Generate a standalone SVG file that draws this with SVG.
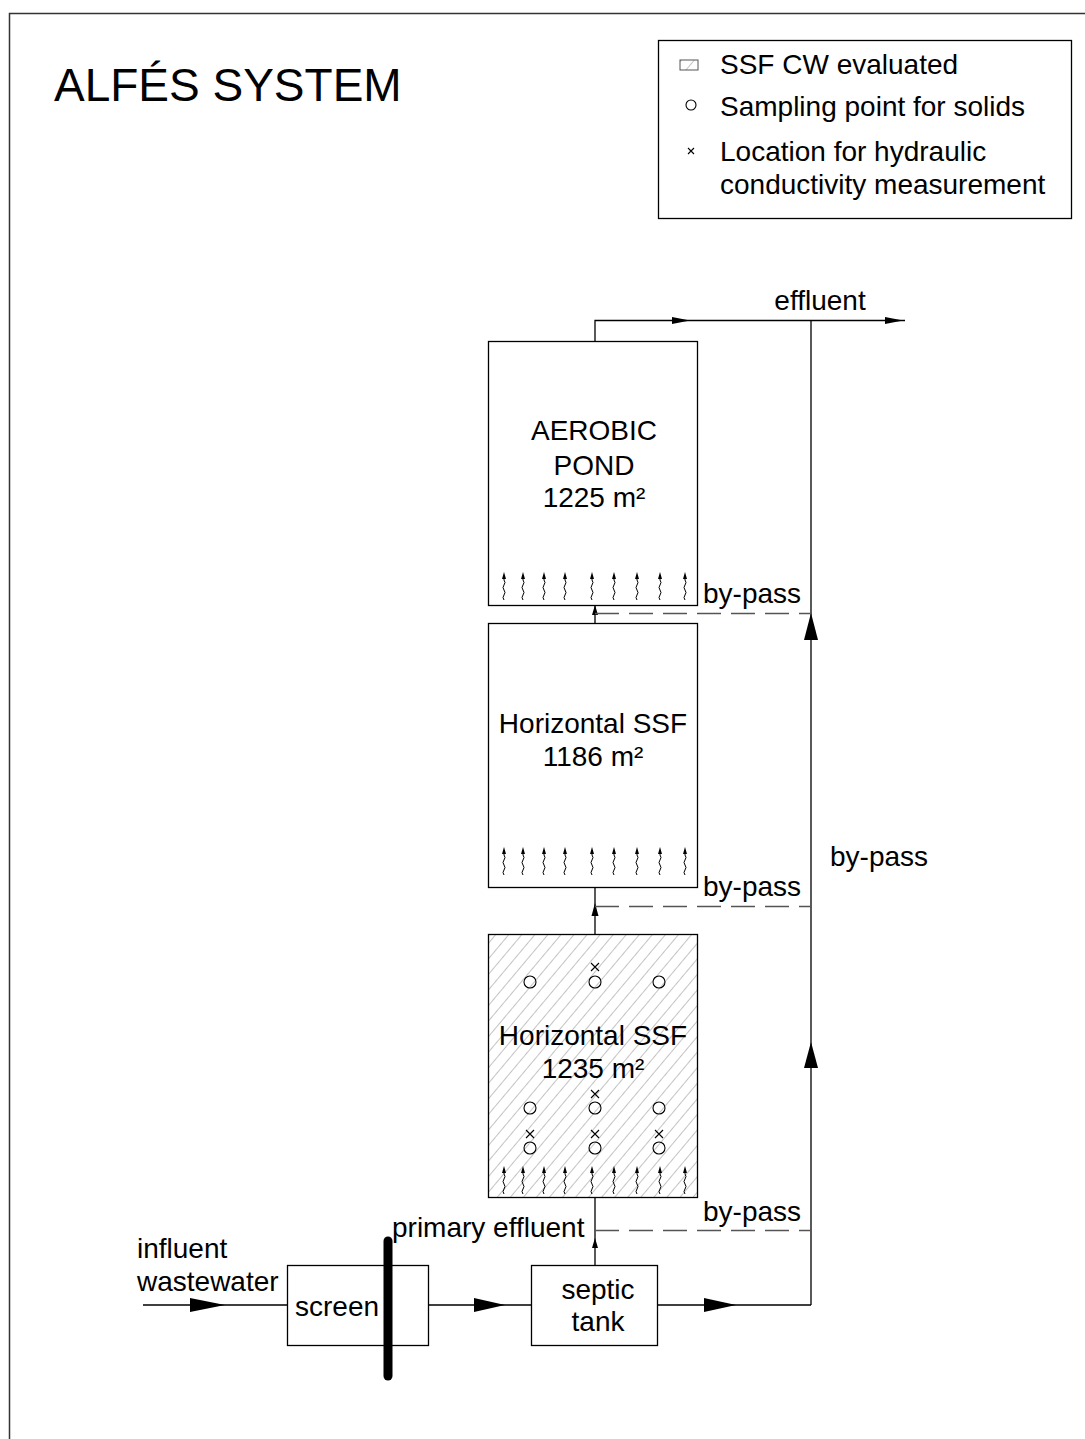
<svg xmlns="http://www.w3.org/2000/svg" width="1085" height="1439" viewBox="0 0 1085 1439">
<style>
text{font-family:"Liberation Sans",Arial,sans-serif;fill:#000}
.lbl{font-size:28px}
.mid{text-anchor:middle}
.box{fill:#fff;stroke:#000;stroke-width:1.3}
.ln{fill:none;stroke:#000;stroke-width:1.3}
.dash{fill:none;stroke:#555;stroke-width:1.3;stroke-dasharray:24 10}
.ah{fill:#000}
.sym{fill:none;stroke:#000;stroke-width:1.1}
</style>
<defs>
<pattern id="hatch" patternUnits="userSpaceOnUse" width="10" height="10" patternTransform="rotate(40)">
<rect width="10" height="10" fill="#fff"/>
<line x1="0" y1="0" x2="0" y2="10" stroke="#888" stroke-width="1"/>
</pattern>
<g id="wavy">
<path d="M0,28 q-2,-2.5 0,-5 q2,-2.5 0,-5 q-2,-2.5 0,-5 q2,-2.5 0,-5 L0,4" fill="none" stroke="#000" stroke-width="1"/>
<polygon points="0,0 -2,7 2,7" fill="#000"/>
</g>
<g id="wrow">
<use href="#wavy" x="504"/><use href="#wavy" x="523"/><use href="#wavy" x="544"/><use href="#wavy" x="565"/><use href="#wavy" x="592"/><use href="#wavy" x="614"/><use href="#wavy" x="637"/><use href="#wavy" x="660"/><use href="#wavy" x="685"/>
</g>
</defs>
<rect width="1085" height="1439" fill="#fff"/>
<path d="M9.5,1439 V13.5 H1085" fill="none" stroke="#333" stroke-width="1.5"/>
<text x="54" y="101" style="font-size:46px">ALFÉS SYSTEM</text>

<g id="legend">
<rect x="658.5" y="40.5" width="413" height="178" class="box"/>
<rect x="680" y="60" width="18" height="10" fill="url(#hatch)" stroke="#555" stroke-width="1"/>
<text x="720" y="74" class="lbl">SSF CW evaluated</text>
<circle cx="691" cy="105" r="5" class="sym"/>
<text x="720" y="116" class="lbl">Sampling point for solids</text>
<path d="M688,148 l6,6 m0,-6 l-6,6" class="sym"/>
<text x="720" y="161" class="lbl">Location for hydraulic</text>
<text x="720" y="194" class="lbl">conductivity measurement</text>
</g>

<g id="connectors">
<path d="M595,341 V320.5 H905" class="ln"/>
<polygon points="690,320.5 672,317 672,324" class="ah"/>
<polygon points="903,320.5 885,317 885,324" class="ah"/>
<path d="M811,320 V1305" class="ln"/>
<polygon points="811,613 804,640 818,640" class="ah"/>
<polygon points="811,1042 804,1068 818,1068" class="ah"/>
<path d="M595,623 V605" class="ln"/>
<polygon points="595,605 592,615 598,615" class="ah"/>
<path d="M595,613.5 H811" class="dash"/>
<path d="M595,934 V887" class="ln"/>
<polygon points="595,903 591.5,916 598.5,916" class="ah"/>
<path d="M595,906.5 H811" class="dash"/>
<path d="M595,1265 V1197" class="ln"/>
<polygon points="595,1238 592,1248 598,1248" class="ah"/>
<path d="M595,1230.5 H811" class="dash"/>
<path d="M143,1305 H287 M429,1305 H531 M657,1305 H811" class="ln"/>
<polygon points="225,1305 190,1298 190,1312" class="ah"/>
<polygon points="505,1305 474,1298 474,1312" class="ah"/>
<polygon points="736,1305 704,1298 704,1312" class="ah"/>
<text x="820" y="310" class="lbl mid">effluent</text>
<text x="703" y="603" class="lbl">by-pass</text>
<text x="703" y="896" class="lbl">by-pass</text>
<text x="703" y="1221" class="lbl">by-pass</text>
<text x="830" y="866" class="lbl">by-pass</text>
<text x="392" y="1237" class="lbl">primary effluent</text>
<text x="137" y="1258" class="lbl">influent</text>
<text x="137" y="1291" class="lbl">wastewater</text>
</g>

<g id="pond">
<rect x="488.5" y="341.5" width="209" height="264" class="box"/>
<text x="594" y="440" class="lbl mid">AEROBIC</text>
<text x="594" y="475" class="lbl mid">POND</text>
<text x="594" y="507" class="lbl mid">1225 m²</text>
<use href="#wrow" y="572"/>
</g>

<g id="ssf2">
<rect x="488.5" y="623.5" width="209" height="264" class="box"/>
<text x="593" y="733" class="lbl mid">Horizontal SSF</text>
<text x="593" y="766" class="lbl mid">1186 m²</text>
<use href="#wrow" y="847"/>
</g>

<g id="ssf1">
<rect x="488.5" y="934.5" width="209" height="263" fill="url(#hatch)" stroke="#000" stroke-width="1.3"/>
<text x="593" y="1045" class="lbl mid">Horizontal SSF</text>
<text x="593" y="1078" class="lbl mid">1235 m²</text>
<g class="sym">
<circle cx="530" cy="982" r="6"/><circle cx="595" cy="982" r="6"/><circle cx="659" cy="982" r="6"/>
<circle cx="530" cy="1108" r="6"/><circle cx="595" cy="1108" r="6"/><circle cx="659" cy="1108" r="6"/>
<circle cx="530" cy="1148" r="6"/><circle cx="595" cy="1148" r="6"/><circle cx="659" cy="1148" r="6"/>
<path d="M591,963 l8,8 m0,-8 l-8,8 M591,1090 l8,8 m0,-8 l-8,8 M526,1130 l8,8 m0,-8 l-8,8 M591,1130 l8,8 m0,-8 l-8,8 M655,1130 l8,8 m0,-8 l-8,8"/>
</g>
<use href="#wrow" y="1166"/>
</g>

<g id="screen">
<rect x="287.5" y="1265.5" width="141" height="80" class="box"/>
<text x="295" y="1316" class="lbl">screen</text>
<line x1="388" y1="1241" x2="388" y2="1376" stroke="#000" stroke-width="9" stroke-linecap="round"/>
</g>

<g id="septic">
<rect x="531.5" y="1265.5" width="126" height="80" class="box"/>
<text x="598" y="1299" class="lbl mid">septic</text>
<text x="598" y="1331" class="lbl mid">tank</text>
</g>
</svg>
